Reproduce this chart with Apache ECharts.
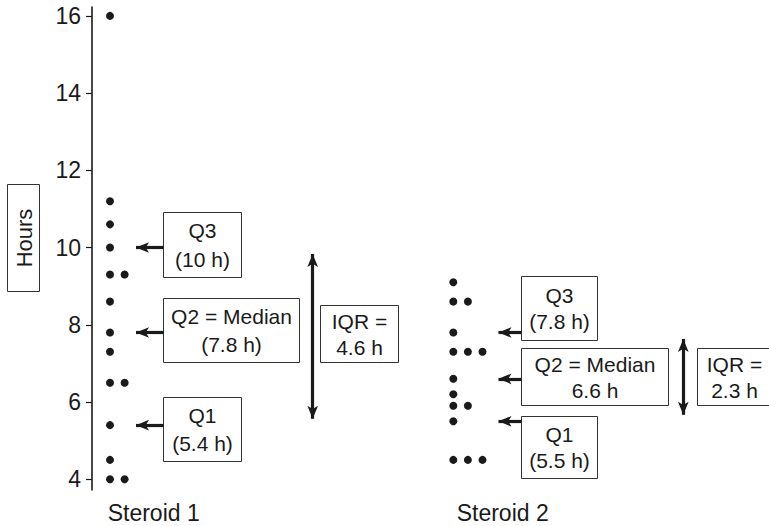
<!DOCTYPE html>
<html>
<head>
<meta charset="utf-8">
<script src="https://cdn.jsdelivr.net/npm/echarts@6/dist/echarts.min.js"></script>
<style>
  html, body { margin: 0; padding: 0; background: #ffffff; }
  #chart { width: 769px; height: 526px; }
</style>
</head>
<body>
<div id="chart"></div>
<script>
// Recovery time per patient (hours), one dot per patient
const categories = ['Steroid 1', 'Steroid 2'];
const steroid1Hours = [16.0, 11.2, 10.6, 10.0, 9.3, 9.3, 8.6, 7.8, 7.3, 6.5, 6.5, 5.4, 4.5, 4.0, 4.0];
const steroid2Hours = [9.1, 8.6, 8.6, 7.8, 7.3, 7.3, 7.3, 6.6, 6.2, 5.9, 5.9, 5.5, 4.5, 4.5, 4.5];

// Quartile summaries per group
const q1Hours = [5.4, 5.5];
const medianHours = [7.8, 6.6];
const q3Hours = [10, 7.8];
const iqrHours = [4.6, 2.3];

// Y axis tick labels
const yTickValues = [4, 6, 8, 10, 12, 14, 16];

// ---- layout ----
const INK = '#1a1a1a';
const FONT = '"Liberation Sans", Arial, Helvetica, sans-serif';
const BOX_FONT = 21;
const AXIS_FONT = 23;
const Y_MIN = 3.72, Y_MAX = 16.23;
const GRID = { left: 92, right: 0, top: 7, bottom: 36 };
const PLOT_W = 769 - GRID.left - GRID.right;
const PLOT_H = 526 - GRID.top - GRID.bottom;
const PX_PER_HOUR = PLOT_H / (Y_MAX - Y_MIN);

// x units are pixels measured from the y axis line
const groupDotX = [18, 361.3];
const COL_STEP = 14.6;
const arrowTipX = [37.5, 400];
const boxLeftX = [71.5, 429.5];
const iqrArrowX = [220.7, 591.3];
const HEAD = [8, 13];
const HEAD_HALF = HEAD[1] / 2;

// Stack repeated values side by side
function dotsFor(values, g) {
  const seen = {};
  return values.map(v => {
    const col = seen[v] || 0;
    seen[v] = col + 1;
    return [groupDotX[g] + col * COL_STEP, v];
  });
}

function pointer(g, value) {
  return [
    { coord: [boxLeftX[g], value], symbol: 'none' },
    { coord: [arrowTipX[g] + HEAD_HALF, value], symbol: 'arrow' }
  ];
}

function iqrArrow(g) {
  const inset = HEAD_HALF / PX_PER_HOUR;
  return [
    { coord: [iqrArrowX[g], q3Hours[g] - inset], symbol: 'arrow' },
    { coord: [iqrArrowX[g], q1Hours[g] + inset], symbol: 'arrow' }
  ];
}

const groups = [steroid1Hours, steroid2Hours];
const series = groups.map((vals, g) => ({
  type: 'scatter',
  name: categories[g],
  data: dotsFor(vals, g),
  symbol: 'circle',
  symbolSize: 8,
  itemStyle: { color: INK, opacity: 1 },
  silent: true,
  markLine: {
    silent: true,
    animation: false,
    symbolSize: HEAD,
    label: { show: false },
    lineStyle: { color: INK, width: 3.2, type: 'solid', opacity: 1 },
    emphasis: { disabled: true },
    data: [
      pointer(g, q3Hours[g]),
      pointer(g, medianHours[g]),
      pointer(g, q1Hours[g]),
      iqrArrow(g)
    ]
  }
}));

// Annotation boxes (pixel layout)
const fmt = v => String(v);
const boxes = [
  { x: 163.5, y: 212.5, w: 78, h: 65, lh: 29, text: 'Q3\n(' + fmt(q3Hours[0]) + ' h)' },
  { x: 163.5, y: 298.5, w: 136, h: 64, lh: 28, text: 'Q2 = Median\n(' + fmt(medianHours[0]) + ' h)' },
  { x: 163.5, y: 397.5, w: 78, h: 64, lh: 28, text: 'Q1\n(' + fmt(q1Hours[0]) + ' h)' },
  { x: 320.5, y: 305.5, w: 78, h: 57, lh: 26, text: 'IQR =\n' + fmt(iqrHours[0]) + ' h' },
  { x: 521.5, y: 276.5, w: 76, h: 64, lh: 26, text: 'Q3\n(' + fmt(q3Hours[1]) + ' h)' },
  { x: 521.5, y: 348.5, w: 147, h: 57, lh: 26, text: 'Q2 = Median\n' + fmt(medianHours[1]) + ' h' },
  { x: 521.5, y: 416.5, w: 76, h: 62, lh: 26, text: 'Q1\n(' + fmt(q1Hours[1]) + ' h)' },
  { x: 697.5, y: 348.5, w: 74, h: 57, lh: 26, text: 'IQR =\n' + fmt(iqrHours[1]) + ' h' }
];

const graphic = [];
boxes.forEach(b => {
  graphic.push({
    type: 'rect', silent: true,
    shape: { x: b.x, y: b.y, width: b.w, height: b.h },
    style: { fill: '#ffffff', stroke: '#333333', lineWidth: 1 }
  });
  graphic.push({
    type: 'text', silent: true,
    x: b.x + b.w / 2, y: b.y + b.h / 2,
    style: {
      text: b.text, fill: INK, fontSize: BOX_FONT, fontFamily: FONT,
      align: 'center', verticalAlign: 'middle', lineHeight: b.lh
    }
  });
});

// Axis title in a box, reading bottom to top
graphic.push({
  type: 'rect', silent: true,
  shape: { x: 7.5, y: 184.5, width: 32, height: 107 },
  style: { fill: '#ffffff', stroke: '#333333', lineWidth: 1 }
});
graphic.push({
  type: 'text', silent: true,
  x: 24, y: 238, rotation: Math.PI / 2,
  style: {
    text: 'Hours', fill: INK, fontSize: 22, fontFamily: FONT,
    align: 'center', verticalAlign: 'middle'
  }
});

// Group names under each dot column
const groupLabelX = [153.7, 502.7];
categories.forEach((c, g) => {
  graphic.push({
    type: 'text', silent: true,
    x: groupLabelX[g], y: 513,
    style: {
      text: c, fill: INK, fontSize: AXIS_FONT, fontFamily: FONT,
      align: 'center', verticalAlign: 'middle'
    }
  });
});

const chart = echarts.init(document.getElementById('chart'), null, { renderer: 'svg' });
chart.setOption({
  animation: false,
  backgroundColor: '#ffffff',
  textStyle: { fontFamily: FONT },
  grid: GRID,
  xAxis: {
    type: 'value', min: 0, max: PLOT_W, show: false
  },
  yAxis: {
    type: 'value', min: Y_MIN, max: Y_MAX,
    axisLine: { show: true, lineStyle: { color: INK, width: 1.6 } },
    axisTick: {
      show: true, inside: false, length: 6,
      customValues: yTickValues,
      lineStyle: { color: INK, width: 1.2 }
    },
    axisLabel: {
      show: true, margin: 11, color: INK, fontSize: AXIS_FONT, fontFamily: FONT,
      customValues: yTickValues
    },
    splitLine: { show: false }
  },
  series: series,
  graphic: graphic
});
</script>
</body>
</html>
